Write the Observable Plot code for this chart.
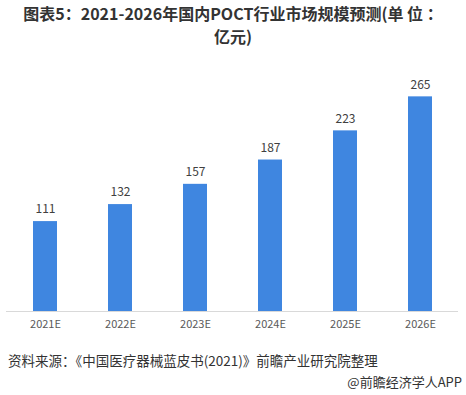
<!DOCTYPE html>
<html><head><meta charset="utf-8">
<script src="https://cdn.jsdelivr.net/npm/d3@7"></script>
<script src="https://cdn.jsdelivr.net/npm/@observablehq/plot@0.6"></script>
<style>
body{margin:0;background:#fff;font-family:"Noto Sans CJK SC","Noto Sans",sans-serif;}
#wrap{width:466px;height:395px;position:relative;overflow:hidden;}
#title{position:absolute;left:0;width:466px;top:2px;text-align:center;font-weight:bold;font-size:16px;line-height:23px;color:#333;white-space:nowrap;}
#chart{position:absolute;left:0;top:52px;}
#src{position:absolute;left:8px;top:350px;font-size:13.5px;color:#333;}
#app{position:absolute;right:4px;top:372px;font-size:13px;color:#333;}
</style></head>
<body><div id="wrap">
<div id="title">图表5：2021-2026年国内POCT行业市场规模预测(单 位 ：<br>亿元)</div>
<div id="chart"></div>
<div id="src">资料来源：《中国医疗器械蓝皮书(2021)》前瞻产业研究院整理</div>
<div id="app">@前瞻经济学人APP</div>
</div>
<script>
const years = ["2021E","2022E","2023E","2024E","2025E","2026E"];
const values = [111,132,157,187,223,265];
const data = years.map((y,i)=>({year:y, value:values[i]}));
const chart = Plot.plot({
  width:466, height:288,
  marginTop:16, marginBottom:29, marginLeft:6, marginRight:8,
  style:{fontFamily:"'Noto Sans CJK SC','Noto Sans',sans-serif", background:"transparent"},
  x:{domain:years, paddingInner:0.68, paddingOuter:0.34, label:null, tickSize:0, tickPadding:9},
  y:{domain:[0,300], axis:null},
  marks:[
    Plot.barY(data,{x:"year", y:"value", fill:"#3f86e0"}),
    Plot.text(data,{x:"year", y:"value", text:d=>String(d.value), dy:-12, fontSize:12, fill:"#404040"}),
    Plot.ruleY([0],{stroke:"#d9d9d9"}),
    Plot.axisX({tickSize:0, tickPadding:9, fontSize:11, color:"#595959", label:null})
  ]
});
document.getElementById("chart").appendChild(chart);
</script>
</body></html>
